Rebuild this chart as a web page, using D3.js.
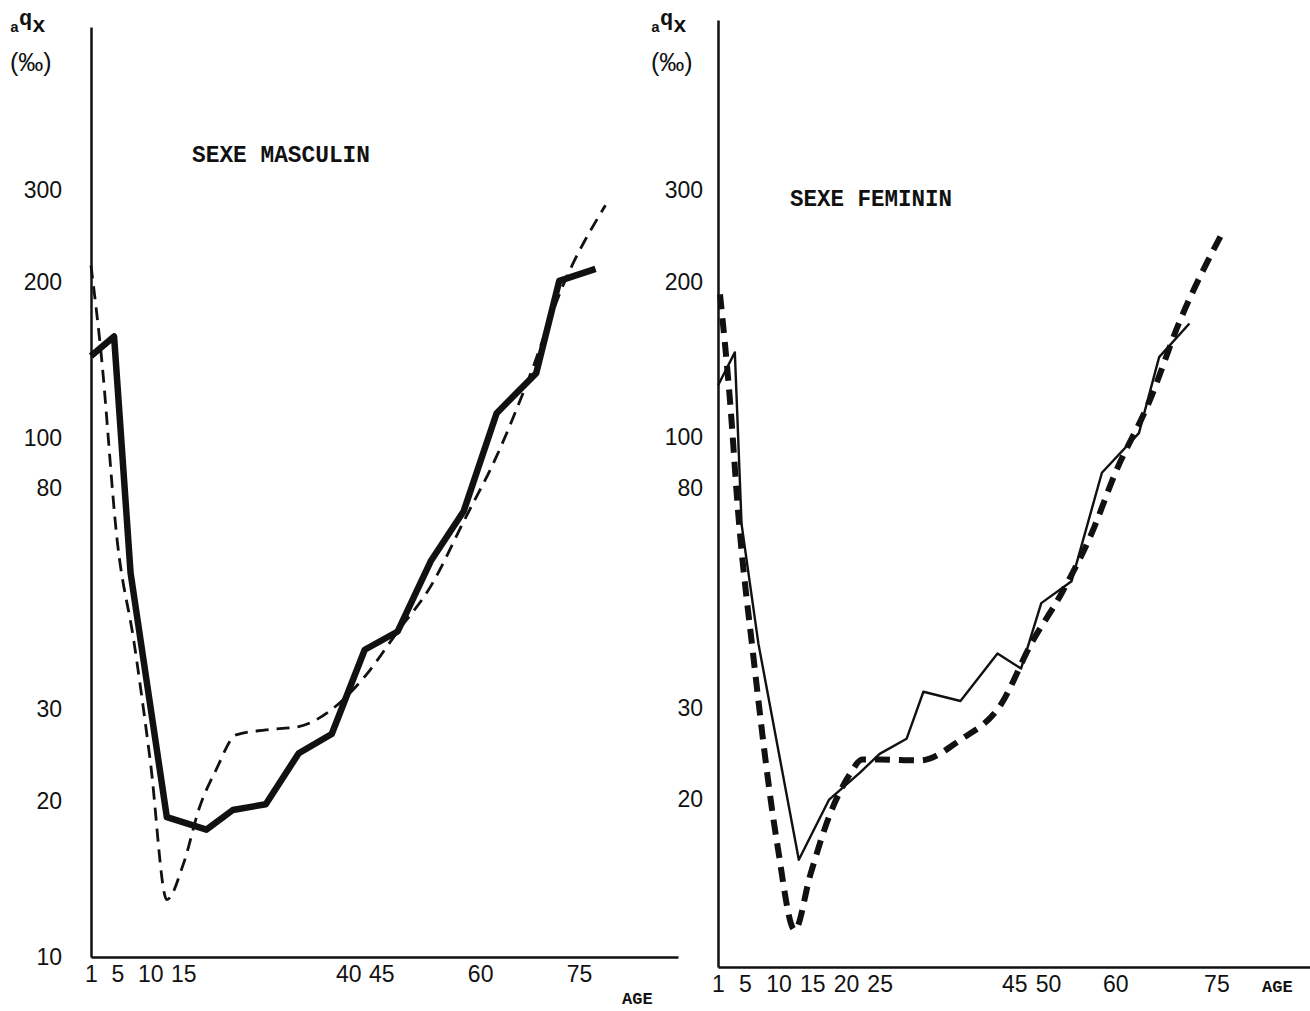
<!DOCTYPE html>
<html>
<head>
<meta charset="utf-8">
<script src="https://cdn.jsdelivr.net/npm/d3@7"></script>
<style>
  body { margin: 0; background: #fff; }
  .tick text { font-family: "Liberation Sans", Arial, sans-serif; font-size: 23px; fill: #111; }
  .domain { stroke: #111; stroke-width: 2.5; }
  .typo { font-family: "Liberation Mono", "Courier New", monospace; font-weight: bold; fill: #111; }
</style>
</head>
<body>
<svg id="chart"></svg>
<script>
const svgWidth = 1310, svgHeight = 1011;

// SEXE MASCULIN - observed (thick solid) and model (thin dashed)
const maleObsAges = [1, 4.5, 7, 12.5, 18.5, 22.5, 27.5, 32.5, 37.5, 42.5, 47.5, 52.5, 57.5, 62.5, 68.5, 72, 77.5];
const maleObsValues = [144, 157, 55, 18.6, 17.6, 19.2, 19.7, 24.7, 26.9, 39.1, 42.4, 57.9, 72.3, 111.7, 133.4, 201, 212];
const maleModAges = [1, 2.5, 5, 7.5, 10, 12.5, 15, 17.5, 20, 23, 27.5, 32.5, 37.5, 42.5, 47.5, 52.5, 57.5, 62.5, 67.5, 72.5, 79];
const maleModValues = [215, 147, 63, 40.6, 23.8, 12.9, 15.1, 19.5, 23, 26.8, 27.4, 27.8, 30, 34.7, 42.4, 51.8, 69.1, 92.3, 131.6, 196, 281];

// SEXE FEMININ - observed (thin solid) and model (thick dashed)
const femObsAges = [1, 3.5, 4.5, 7, 13, 17.5, 22, 25, 29, 31.5, 37, 42.5, 46, 49, 53.5, 58, 63.5, 66.5, 71];
const femObsValues = [126, 146, 68, 40, 15.3, 20, 22.5, 24.5, 26.2, 32.3, 31, 38.3, 35.8, 47.9, 52.8, 85.5, 102, 143, 166];
const femModAges = [1.3, 2.8, 4, 6.2, 9.8, 12.4, 14.7, 17.6, 20.6, 22.4, 25, 31, 37, 43, 47.5, 52, 56.5, 60, 65, 69.5, 76];
const femModValues = [189, 117, 71.5, 38.3, 16.4, 11.2, 14.3, 18.7, 22.4, 23.9, 23.9, 23.8, 26.1, 30.5, 40, 50, 65.4, 85.5, 117, 167, 250];

// tick labels
const maleYTicks = [10, 20, 30, 80, 100, 200, 300];
const femYTicks = [20, 30, 80, 100, 200, 300];
const maleXTicks = [1, 5, 10, 15, 40, 45, 60, 75];
const femXTicks = [1, 5, 10, 15, 20, 25, 45, 50, 60, 75];

const chart = d3.select("#chart")
    .attr("width", svgWidth)
    .attr("height", svgHeight);

// left panel scales
var xLeft = d3.scaleLinear().domain([1, 90]).range([91, 678]);
var yLeft = d3.scaleLog().domain([10, 620]).range([957, 27]);

// right panel scales
var xRight = d3.scaleLinear().domain([1, 88.9]).range([718, 1310]);
var yRight = d3.scaleLog().domain([9.5, 640]).range([967, 20]);

function drawAxes(x, y, xTicks, yTicks, yPad, xPad) {
    chart.append("g")
        .attr("transform", "translate(" + x.range()[0] + ",0)")
        .call(d3.axisLeft(y).tickValues(yTicks).tickFormat(d3.format("d")).tickSize(0).tickSizeOuter(0).tickPadding(yPad));

    chart.append("g")
        .attr("transform", "translate(0," + y.range()[0] + ")")
        .call(d3.axisBottom(x).tickValues(xTicks).tickFormat(d3.format("d")).tickSize(0).tickSizeOuter(0).tickPadding(xPad));
}

drawAxes(xLeft, yLeft, maleXTicks, maleYTicks, 29, 9);
drawAxes(xRight, yRight, femXTicks, femYTicks, 15, 9);

function drawLine(ages, values, x, y, width, dash, curve) {
    var line = d3.line()
        .x(function(d) { return x(d[0]); })
        .y(function(d) { return y(d[1]); })
        .curve(curve);
    chart.append("path")
        .datum(d3.zip(ages, values))
        .attr("d", line)
        .attr("fill", "none")
        .attr("stroke", "#111")
        .attr("stroke-width", width)
        .attr("stroke-linejoin", "round")
        .attr("stroke-dasharray", dash);
}

drawLine(maleModAges, maleModValues, xLeft, yLeft, 2.8, "13,8", d3.curveMonotoneX);
drawLine(maleObsAges, maleObsValues, xLeft, yLeft, 6.5, null, d3.curveLinear);
drawLine(femObsAges, femObsValues, xRight, yRight, 2.4, null, d3.curveLinear);
drawLine(femModAges, femModValues, xRight, yRight, 6, "15,9", d3.curveMonotoneX);

// titles
chart.append("text").attr("class", "typo")
    .attr("x", 192).attr("y", 162)
    .attr("font-size", 24)
    .attr("textLength", 178).attr("lengthAdjust", "spacingAndGlyphs")
    .text("SEXE MASCULIN");
chart.append("text").attr("class", "typo")
    .attr("x", 790).attr("y", 206)
    .attr("font-size", 24)
    .attr("textLength", 162).attr("lengthAdjust", "spacingAndGlyphs")
    .text("SEXE FEMININ");

// y axis titles aqx (‰)
function yTitle(x0) {
    var t = chart.append("text").attr("class", "typo").attr("x", x0).attr("y", 32);
    t.append("tspan").attr("font-size", 15).text("a");
    t.append("tspan").attr("font-size", 22).attr("dy", -7).text("q");
    t.append("tspan").attr("font-size", 22).attr("dy", 7).text("x");
    chart.append("text")
        .attr("x", x0).attr("y", 71)
        .attr("font-family", "'Liberation Sans', Arial, sans-serif")
        .attr("font-size", 25)
        .attr("fill", "#111")
        .text("(‰)");
}
yTitle(10);
yTitle(651);

// AGE labels
chart.append("text").attr("class", "typo")
    .attr("x", 622).attr("y", 1004).attr("font-size", 17).text("AGE");
chart.append("text").attr("class", "typo")
    .attr("x", 1262).attr("y", 992).attr("font-size", 17).text("AGE");
</script>
</body>
</html>
